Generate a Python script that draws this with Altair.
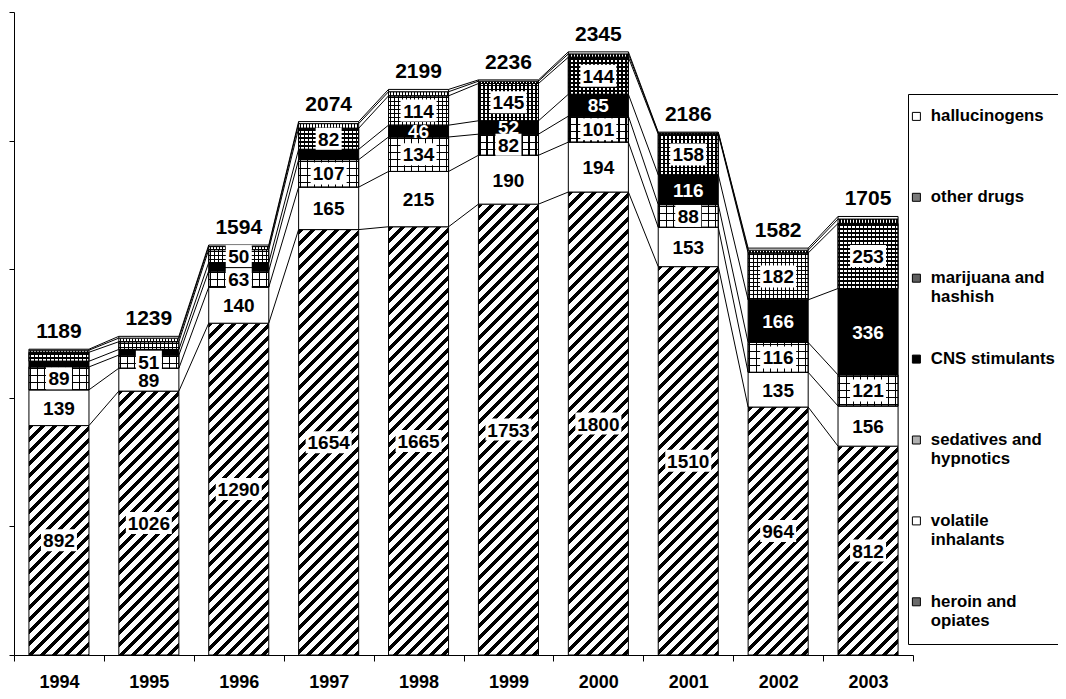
import altair as alt

# ---------------- data ----------------
years = [1994, 1995, 1996, 1997, 1998, 1999, 2000, 2001, 2002, 2003]
heroin = [892, 1026, 1290, 1654, 1665, 1753, 1800, 1510, 964, 812]
volatile = [139, 89, 140, 165, 215, 190, 194, 153, 135, 156]
sedatives = [89, 51, 63, 107, 134, 82, 101, 88, 116, 121]
cns = [22, 22, 33, 40, 46, 52, 85, 116, 166, 336]
marijuana = [35, 30, 50, 82, 114, 145, 144, 158, 182, 253]
other = [8, 14, 12, 18, 16, 9, 13, 5, 11, 17]
halluc = [4, 7, 6, 8, 9, 5, 8, 3, 8, 10]
totals = [1189, 1239, 1594, 2074, 2199, 2236, 2345, 2186, 1582, 1705]
drugs = ["heroin and opiates", "volatile inhalants", "sedatives and hypnotics",
         "CNS stimulants", "marijuana and hashish", "other drugs", "hallucinogens"]
series = [heroin, volatile, sedatives, cns, marijuana, other, halluc]

# ---------------- layout / style constants ----------------
FONT = "Liberation Sans"
PLOT_W, PLOT_H = 899, 643
PAD_L, PAD_T = 6, 4
CANVAS_W, CANVAS_H = 1050, 683
YMAX = 2500
HALF = 0.334                      # half bar width, in years
BAR_W = 2 * HALF * PLOT_W / 10.0  # bar width in px
CLEAR = "rgba(255,255,255,0)"


def stops(L, period, line, bg, phase=0.0):
    out = [(0.0, bg)]
    a = phase
    while a < L:
        b = min(a + line, L)
        out += [(a, bg), (a, "black"), (b, "black"), (b, bg)]
        a += period
    out.append((L, bg))
    return [{"offset": round(p / L, 5), "color": c} for p, c in out]


def diag(h):
    L = BAR_W + h
    k = L / (BAR_W ** 2 + h ** 2)
    return {"gradient": "linear", "x1": 0, "y1": 0,
            "x2": round(BAR_W * k, 5), "y2": round(h * k, 5),
            "stops": stops(L, 12.0, 5.0, "white")}


def vlines(period, line, bg):
    return {"gradient": "linear", "x1": 0, "y1": 0, "x2": 1, "y2": 0,
            "stops": stops(BAR_W, period, line, bg, 1.0)}


def hlines(h, period, line, bg):
    h = max(h, 0.5)
    return {"gradient": "linear", "x1": 0, "y1": 0, "x2": 0, "y2": 1,
            "stops": stops(h, period, line, bg, 1.0)}


def base_fill(d, h):
    if d == 0:
        return diag(h)
    if d == 2:
        return vlines(7.0, 1.2, "white")
    if d == 3:
        return "black"
    if d == 4:
        return vlines(4.0, 1.3, "white")
    if d == 5:
        return vlines(3.0, 1.5, "white")
    return "white"


bars, overlay, labels, boxes, tops = [], [], [], [], []
cum = []
for i, yr in enumerate(years):
    base = 0
    levels = []
    for d, name in enumerate(drugs):
        v = series[d][i]
        h = v * PLOT_H / YMAX
        bars.append({"year": yr, "drug": name, "y0": base, "y1": base + v,
                     "mid": base + v / 2, "pat": base_fill(d, h)})
        if d == 2:
            overlay.append({"year": yr, "y0": base, "y1": base + v,
                            "pat": hlines(h, 7.0, 1.2, CLEAR)})
        if d == 4:
            overlay.append({"year": yr, "y0": base, "y1": base + v,
                            "pat": hlines(h, 4.0, 1.3, CLEAR)})
        if d in (0, 1, 2) or (d in (3, 4) and v >= 45):
            labels.append({"year": yr, "mid": base + v / 2, "label": str(v),
                           "tcolor": "white" if d == 3 else "black"})
            if d in (0, 2, 4):
                boxes.append({"year": yr, "mid": base + v / 2, "n": len(str(v))})
        base += v
        levels.append(base)
    cum.append(levels)
    tops.append({"year": yr, "top": base, "label": str(totals[i])})

links = []
for i in range(len(years) - 1):
    for k in range(len(drugs)):
        links.append({"xa": years[i] + HALF, "xb": years[i + 1] - HALF,
                      "ya": cum[i][k], "yb": cum[i + 1][k]})

# ---------------- scales / axes ----------------
xs = alt.Scale(domain=[1993.5, 2003.5], nice=False, zero=False)
ys = alt.Scale(domain=[0, YMAX], nice=False, zero=True)
xaxis = alt.Axis(values=[1993.5 + k for k in range(11)], title=None, grid=False,
                 labelExpr="datum.value < 2003 ? format(datum.value + 0.5, 'd') : ''",
                 labelOffset=PLOT_W / 20.0, labelFlush=False, labelOverlap=False,
                 tickSize=6, labelPadding=12, labelFont=FONT, labelFontSize=18,
                 labelFontWeight="bold", labelColor="black",
                 domainColor="black", tickColor="black")
yaxis = alt.Axis(values=[0, 500, 1000, 1500, 2000, 2500], title=None, grid=False,
                 labels=False, tickSize=5, domainColor="black", tickColor="black")


def X(f):
    return alt.X(f, type="quantitative", scale=xs, axis=xaxis)


def Y(f):
    return alt.Y(f, type="quantitative", scale=ys, axis=yaxis)


bar_layer = alt.Chart(alt.Data(values=bars)).transform_calculate(
    xa=f"datum.year - {HALF}", xb=f"datum.year + {HALF}"
).mark_bar(stroke="black", strokeWidth=1).encode(
    x=X("xa"), x2="xb", y=Y("y0"), y2="y1",
    fill=alt.Fill("pat", type="nominal", scale=None),
)

overlay_layer = alt.Chart(alt.Data(values=overlay)).transform_calculate(
    xa=f"datum.year - {HALF}", xb=f"datum.year + {HALF}"
).mark_bar(stroke="black", strokeWidth=1).encode(
    x=X("xa"), x2="xb", y=Y("y0"), y2="y1",
    fill=alt.Fill("pat", type="nominal", scale=None),
)

link_layer = alt.Chart(alt.Data(values=links)).mark_rule(
    color="black", strokeWidth=1
).encode(x=X("xa"), x2="xb", y=Y("ya"), y2="yb")

box_layer = alt.Chart(alt.Data(values=boxes)).transform_calculate(
    shp="datum.n >= 4 ? 'M-23,-11H23V11H-23Z' : (datum.n == 3 ? 'M-18,-11H18V11H-18Z' : 'M-13,-11H13V11H-13Z')"
).mark_point(filled=True, fill="white", strokeWidth=0, opacity=1, size=4).encode(
    x=X("year"), y=Y("mid"),
    shape=alt.Shape("shp", type="nominal", scale=None),
)

label_layer = alt.Chart(alt.Data(values=labels)).mark_text(
    font=FONT, fontSize=19, fontWeight="bold", baseline="middle", align="center", dy=1
).encode(
    x=X("year"), y=Y("mid"), text=alt.Text("label", type="nominal"),
    fill=alt.Fill("tcolor", type="nominal", scale=None),
)

total_layer = alt.Chart(alt.Data(values=tops)).mark_text(
    font=FONT, fontSize=21, fontWeight="bold", baseline="bottom", align="center",
    dy=-7, color="black"
).encode(x=X("year"), y=Y("top"), text=alt.Text("label", type="nominal"))

legend_order = list(reversed(drugs))
legend_colors = ["white", "#7a7a7a", "#5e5e5e", "black", "#b0b0b0", "white", "#6a6a6a"]
label_expr = ("split(replace(replace(datum.label, ' and ', ' and|'), 'volatile ', 'volatile|')"
              " + ((indexof(datum.label, ' and ') >= 0 || indexof(datum.label, 'volatile') >= 0) ? '' : '|'), '|')")

legend_layer = alt.Chart(alt.Data(values=bars)).mark_square(opacity=0, size=1).encode(
    x=X("year"), y=Y("mid"),
    color=alt.Color("drug", type="nominal",
                    scale=alt.Scale(domain=legend_order, range=legend_colors),
                    legend=alt.Legend(orient="none", legendX=894, legendY=82,
                                      direction="vertical", title=None,
                                      symbolType="square", symbolSize=64,
                                      symbolStrokeColor="black", symbolStrokeWidth=1,
                                      symbolOpacity=1, symbolOffset=-14,
                                      labelFont=FONT, labelFontSize=16.8,
                                      labelFontWeight="bold", labelColor="black",
                                      labelExpr=label_expr, labelLimit=300,
                                      labelOffset=6, rowPadding=44.9, padding=14,
                                      strokeColor="black", fillColor="white")),
)

chart = alt.layer(
    bar_layer, overlay_layer, link_layer, box_layer, label_layer, total_layer, legend_layer
).properties(
    width=PLOT_W, height=PLOT_H,
    autosize=alt.AutoSizeParams(type="none"),
    padding={"left": PAD_L, "top": PAD_T,
             "right": CANVAS_W - PAD_L - PLOT_W,
             "bottom": CANVAS_H - PAD_T - PLOT_H},
).configure_view(stroke=None)

chart.save("out.html", embed_options={"renderer": "svg", "actions": False})
